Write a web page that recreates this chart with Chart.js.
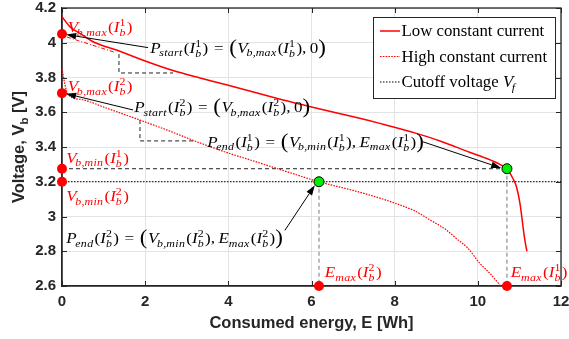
<!DOCTYPE html>
<html>
<head>
<meta charset="utf-8">
<script src="https://cdn.jsdelivr.net/npm/chart.js@4.4.1/dist/chart.umd.min.js"></script>
<style>
html,body{margin:0;padding:0;background:#fff;}
canvas{display:block;}
</style>
</head>
<body>
<canvas id="c" width="569" height="339"></canvas>
<script>
// ---------------- DATA ----------------
const lowE  = [0, 0.2, 0.43, 0.8, 1.31, 2.0, 2.67, 3.32, 4.0, 5.32, 6.0, 7.16, 7.64, 8.5, 9.09, 9.8, 10.2, 10.4, 10.55, 10.7, 10.84, 10.93, 11.01, 11.13, 11.18];
const lowV  = [4.15, 4.09, 4.054, 4.0, 3.958, 3.895, 3.84, 3.797, 3.755, 3.67, 3.63, 3.565, 3.536, 3.48, 3.435, 3.37, 3.335, 3.315, 3.297, 3.275, 3.22, 3.17, 3.08, 2.865, 2.80];
const highE = [0, 0.07, 0.15, 0.5, 1.0, 1.875, 2.5, 3.3, 4.0, 4.6, 5.29, 6.18, 7.0, 7.64, 8.13, 8.5, 8.85, 9.2, 9.5, 9.75, 10.05, 10.3, 10.55];
const highV = [3.853, 3.76, 3.70, 3.672, 3.63, 3.555, 3.50, 3.425, 3.365, 3.32, 3.267, 3.2, 3.15, 3.106, 3.066, 3.03, 2.98, 2.93, 2.87, 2.82, 2.73, 2.67, 2.60];
const cutoffV = 3.2;
const vbMax = [4.05, 3.71];      // V_b,max(I_b^1), V_b,max(I_b^2)
const vbMin = [3.275, 3.2];      // V_b,min(I_b^1), V_b,min(I_b^2)
const eMax  = [10.7, 6.18];      // E_max(I_b^1), E_max(I_b^2)
const step1E = [1.37, 1.37, 2.67];   // dashed step near start of low curve
const step1V = [3.935, 3.826, 3.826];
const step2E = [1.875, 1.875, 3.2];  // dashed step near start of high curve
const step2V = [3.555, 3.435, 3.435];
const tangE = [0.12, 1.27];
const tangV = [4.033, 3.945];
const xTicks = [0, 2, 4, 6, 8, 10, 12];
const yTicks = [2.6, 2.8, 3.0, 3.2, 3.4, 3.6, 3.8, 4.0, 4.2];
const legendLabels = ['Low constant current', 'High constant current', 'Cutoff voltage V_f'];

const pts = (xs, ys) => xs.map((x, i) => ({x: x, y: ys[i]}));
const xMin = xTicks[0], xMax = xTicks[xTicks.length - 1];
const yMin = yTicks[0], yMax = yTicks[yTicks.length - 1];

// annotation texts (anchor: left x, centre y, in data units)
const labels = [
  {s: 'V_{b,max}(I_b^1)', x: 0.14, y: 4.09, c: '#ff0000'},
  {s: 'V_{b,max}(I_b^2)', x: 0.14, y: 3.75, c: '#ff0000'},
  {s: 'V_{b,min}(I_b^1)', x: 0.10, y: 3.337, c: '#ff0000'},
  {s: 'V_{b,min}(I_b^2)', x: 0.10, y: 3.118, c: '#ff0000'},
  {s: 'E_{max}(I_b^2)', x: 6.32, y: 2.68, c: '#ff0000'},
  {s: 'E_{max}(I_b^1)', x: 10.79, y: 2.68, c: '#ff0000'},
  {s: 'P_{start}(I_b^1) = «V_{b,max}(I_b^1), 0»', x: 2.12, y: 3.97, c: '#000'},
  {s: 'P_{start}(I_b^2) = «V_{b,max}(I_b^2), 0»', x: 1.74, y: 3.63, c: '#000'},
  {s: 'P_{end}(I_b^1) = «V_{b,min}(I_b^1), E_{max}(I_b^1)»', x: 3.49, y: 3.43, c: '#000'},
  {s: 'P_{end}(I_b^2) = «V_{b,min}(I_b^2), E_{max}(I_b^2)»', x: 0.10, y: 2.876, c: '#000'}
];
const arrows = [
  {x1: 2.07, y1: 3.972, x2: 0.10, y2: 4.047},
  {x1: 1.71, y1: 3.613, x2: 0.10, y2: 3.707},
  {x1: 8.68, y1: 3.43, x2: 10.56, y2: 3.279},
  {x1: 5.36, y1: 2.92, x2: 6.08, y2: 3.18}
];

// ---------------- math text renderer ----------------
const SERIF = '"Liberation Serif", "DejaVu Serif", serif';
function parseMath(s) {
  let i = 0; const atoms = [];
  function group() {
    if (s[i] === '{') { const j = s.indexOf('}', i); const g = s.slice(i + 1, j); i = j + 1; return g; }
    return s[i++];
  }
  while (i < s.length) {
    const a = {base: s[i++]};
    while (s[i] === '_' || s[i] === '^') { const k = s[i++]; const g = group(); if (k === '_') a.sub = g; else a.sup = g; }
    atoms.push(a);
  }
  return atoms;
}
function font(ctx, italic, size) { ctx.font = (italic ? 'italic ' : '') + size + 'px ' + SERIF; }
function runStr(ctx, str, x, base, size) {
  let w = 0;
  for (const ch of str) {
    const it = /[A-Za-z]/.test(ch);
    font(ctx, it, size);
    ctx.fillText(ch, x + w, base);
    w += ctx.measureText(ch).width + (it ? 0.3 : 0);
  }
  return w;
}
function drawMath(ctx, src, x, yc, size, color, hs) {
  hs = hs || 1.1;
  const atoms = parseMath(src);
  ctx.save();
  ctx.translate(x, yc);
  ctx.scale(hs, 1);
  const base = size * 0.33;
  let cx = 0;
  ctx.fillStyle = color; ctx.textAlign = 'left'; ctx.textBaseline = 'alphabetic';
  for (const a of atoms) {
    const ch = a.base;
    if (ch === ' ') continue;
    if (ch === '=') { cx += size * 0.33; font(ctx, false, size); ctx.fillText('=', cx, base); cx += ctx.measureText('=').width + size * 0.33; continue; }
    if (ch === ',') { font(ctx, false, size); ctx.fillText(',', cx, base); cx += ctx.measureText(',').width + size * 0.2; continue; }
    if (ch === '«' || ch === '»') {
      const bs = size * 1.35; font(ctx, false, bs);
      const p = ch === '«' ? '(' : ')';
      ctx.fillText(p, cx, base + size * 0.08);
      cx += ctx.measureText(p).width + 0.5; continue;
    }
    const it = /[A-Za-z]/.test(ch);
    font(ctx, it, size);
    ctx.fillText(ch, cx, base);
    cx += ctx.measureText(ch).width;
    if (a.sub || a.sup) {
      const ss = size * 0.7;
      let w1 = 0, w2 = 0;
      const off = (ch === 'V' || ch === 'P') ? -size * 0.08 : 0;
      if (a.sub) w1 = runStr(ctx, a.sub, cx + off, base + size * (a.sup ? 0.27 : 0.22), ss);
      if (a.sup) w2 = runStr(ctx, a.sup, cx, base - size * 0.4, ss);
      cx += Math.max(w1 + off, w2) + 1;
    } else if (it) {
      cx += 1;
    }
  }
  ctx.restore();
  return cx * hs;
}

// ---------------- plugin ----------------
const deco = {
  id: 'deco',
  beforeDatasetsDraw(chart) {
    const {ctx, chartArea: a, scales} = chart;
    ctx.save();
    ctx.strokeStyle = '#262626'; ctx.lineWidth = 1;
    ctx.beginPath();
    for (const v of xTicks) {
      const px = Math.round(scales.x.getPixelForValue(v)) + 0.5;
      ctx.moveTo(px, a.bottom); ctx.lineTo(px, a.bottom - 5);
      ctx.moveTo(px, a.top); ctx.lineTo(px, a.top + 5);
    }
    for (const v of yTicks) {
      const py = Math.round(scales.y.getPixelForValue(v)) + 0.5;
      ctx.moveTo(a.left, py); ctx.lineTo(a.left + 5, py);
      ctx.moveTo(a.right, py); ctx.lineTo(a.right - 5, py);
    }
    ctx.stroke();
    ctx.lineWidth = 1.3;
    ctx.strokeRect(a.left, a.top, a.right - a.left, a.bottom - a.top);
    ctx.restore();
  },
  afterDatasetsDraw(chart) {
    const {ctx, chartArea: a, scales} = chart;
    const X = v => scales.x.getPixelForValue(v), Y = v => scales.y.getPixelForValue(v);
    ctx.save();
    // arrows
    for (const ar of arrows) {
      const x1 = X(ar.x1), y1 = Y(ar.y1), x2 = X(ar.x2), y2 = Y(ar.y2);
      const ang = Math.atan2(y2 - y1, x2 - x1);
      const L = 10, H = 3.3;
      const bx = x2 - L * Math.cos(ang), by = y2 - L * Math.sin(ang);
      ctx.strokeStyle = '#000'; ctx.lineWidth = 1;
      ctx.beginPath(); ctx.moveTo(x1, y1); ctx.lineTo(bx, by); ctx.stroke();
      ctx.fillStyle = '#000';
      ctx.beginPath();
      ctx.moveTo(x2, y2);
      ctx.lineTo(bx + H * Math.sin(ang), by - H * Math.cos(ang));
      ctx.lineTo(bx - H * Math.sin(ang), by + H * Math.cos(ang));
      ctx.closePath(); ctx.fill();
    }
    // labels
    for (const l of labels) drawMath(ctx, l.s, X(l.x), Y(l.y), 15.5, l.c, 1.1);
    // legend
    const lx = a.right - 188, ly = a.top + 9, lw = 182, lh = 81;
    ctx.fillStyle = '#fff'; ctx.fillRect(lx, ly, lw, lh);
    ctx.strokeStyle = '#262626'; ctx.lineWidth = 1; ctx.setLineDash([]);
    ctx.strokeRect(lx + 0.5, ly + 0.5, lw, lh);
    const ds = chart.data.datasets;
    for (let i = 0; i < 3; i++) {
      const d = ds[i];
      const yy = ly + 14 + i * 25.5;
      ctx.strokeStyle = d.borderColor; ctx.lineWidth = d.borderWidth; ctx.setLineDash(d.borderDash || []);
      ctx.beginPath(); ctx.moveTo(lx + 7, yy); ctx.lineTo(lx + 27, yy); ctx.stroke();
      ctx.setLineDash([]);
      const txt = legendLabels[i];
      const m = txt.indexOf(' V_');
      ctx.save();
      ctx.translate(lx + 28.5, yy);
      ctx.scale(1.05, 1);
      ctx.fillStyle = '#000'; ctx.textBaseline = 'alphabetic'; ctx.textAlign = 'left';
      font(ctx, false, 16);
      if (m >= 0) {
        const head = txt.slice(0, m + 1);
        ctx.fillText(head, 0, 5);
        const w = ctx.measureText(head).width;
        drawMath(ctx, txt.slice(m + 1), w, 0.2, 16, '#000', 1);
      } else {
        ctx.fillText(txt, 0, 5);
      }
      ctx.restore();
    }
    // axis titles
    ctx.fillStyle = '#262626';
    ctx.font = 'bold 16.5px "Liberation Sans", Arial, sans-serif';
    ctx.textAlign = 'center'; ctx.textBaseline = 'middle';
    ctx.fillText('Consumed energy, E [Wh]', (a.left + a.right) / 2, 323);
    ctx.save();
    ctx.translate(18, (a.top + a.bottom) / 2);
    ctx.rotate(-Math.PI / 2);
    const f1 = 'bold 16.5px "Liberation Sans", Arial, sans-serif', f2 = 'bold 11.5px "Liberation Sans", Arial, sans-serif';
    ctx.textAlign = 'left'; ctx.textBaseline = 'alphabetic';
    const p1 = 'Voltage, V', p2 = 'b', p3 = ' [V]';
    ctx.font = f1; const w1 = ctx.measureText(p1).width, w3 = ctx.measureText(p3).width;
    ctx.font = f2; const w2 = ctx.measureText(p2).width;
    let sx = -(w1 + w2 + w3) / 2;
    ctx.font = f1; ctx.fillText(p1, sx, 6); sx += w1;
    ctx.font = f2; ctx.fillText(p2, sx, 9.5); sx += w2;
    ctx.font = f1; ctx.fillText(p3, sx, 6);
    ctx.restore();
    ctx.restore();
  }
};

const tickFont = {family: '"Liberation Sans", Arial, sans-serif', weight: 'bold', size: 15};
new Chart(document.getElementById('c'), {
  type: 'scatter',
  data: {
    datasets: [
      {label: legendLabels[0], data: pts(lowE, lowV), showLine: true, borderColor: '#ff0000', borderWidth: 1.5, pointRadius: 0, cubicInterpolationMode: 'monotone', order: 5},
      {label: legendLabels[1], data: pts(highE, highV), showLine: true, borderColor: '#ff0000', borderWidth: 1.2, borderDash: [1.6, 1.2], pointRadius: 0, cubicInterpolationMode: 'monotone', order: 5},
      {label: legendLabels[2], data: pts([xMin, xMax], [cutoffV, cutoffV]), showLine: true, borderColor: '#000', borderWidth: 1.2, borderDash: [1.5, 1.5], pointRadius: 0, order: 6},
      {data: pts([xMin, eMax[0]], [vbMin[0], vbMin[0]]), showLine: true, borderColor: '#222', borderWidth: 1, borderDash: [4, 3], pointRadius: 0, order: 6},
      {data: pts([eMax[0], eMax[0]], [vbMin[0], yMin]), showLine: true, borderColor: '#777', borderWidth: 1, borderDash: [4, 3], pointRadius: 0, order: 6},
      {data: pts([eMax[1], eMax[1]], [vbMin[1], yMin]), showLine: true, borderColor: '#777', borderWidth: 1, borderDash: [4, 3], pointRadius: 0, order: 6},
      {data: pts(step1E, step1V), showLine: true, borderColor: '#222', borderWidth: 1, borderDash: [4, 3], pointRadius: 0, order: 6},
      {data: pts(step2E, step2V), showLine: true, borderColor: '#222', borderWidth: 1, borderDash: [4, 3], pointRadius: 0, order: 6},
      {data: pts(tangE, tangV), showLine: true, borderColor: '#ff0000', borderWidth: 1, borderDash: [4, 2, 1, 2], pointRadius: 0, order: 6},
      {data: pts([xMin, xMin, xMin, xMin, eMax[1], eMax[0]], [vbMax[0], vbMax[1], vbMin[0], vbMin[1], yMin, yMin]), showLine: false, pointRadius: 5, pointBackgroundColor: '#ff0000', pointBorderColor: '#ff0000', pointBorderWidth: 0, clip: false, order: 1},
      {data: pts([eMax[1], eMax[0]], [vbMin[1], vbMin[0]]), showLine: false, pointRadius: 5, pointBackgroundColor: '#00ee00', pointBorderColor: '#000', pointBorderWidth: 1, clip: false, order: 0}
    ]
  },
  options: {
    responsive: false, animation: false,
    layout: {padding: {top: 8, right: 8, left: 0, bottom: 0}},
    plugins: {legend: {display: false}, tooltip: {enabled: false}},
    scales: {
      x: {
        type: 'linear', min: xMin, max: xMax,
        afterFit(s) { s.height = 53; s.paddingLeft = 0; s.paddingRight = 0; },
        afterBuildTicks(s) { s.ticks = xTicks.map(v => ({value: v})); },
        ticks: {font: tickFont, color: '#262626', padding: 7, maxRotation: 0, autoSkip: false, callback: v => String(v)},
        grid: {color: '#e3e3e3', drawTicks: false, lineWidth: 1},
        border: {display: true, color: '#262626', width: 1.3}
      },
      y: {
        type: 'linear', min: yMin, max: yMax,
        afterFit(s) { s.width = 62; s.paddingTop = 0; s.paddingBottom = 0; },
        afterBuildTicks(s) { s.ticks = yTicks.map(v => ({value: v})); },
        ticks: {font: tickFont, color: '#262626', padding: 6, autoSkip: false, callback: v => String(Number(v.toFixed(1)))},
        grid: {color: '#e3e3e3', drawTicks: false, lineWidth: 1},
        border: {display: true, color: '#262626', width: 1.3}
      }
    }
  },
  plugins: [deco]
});
</script>
</body>
</html>
